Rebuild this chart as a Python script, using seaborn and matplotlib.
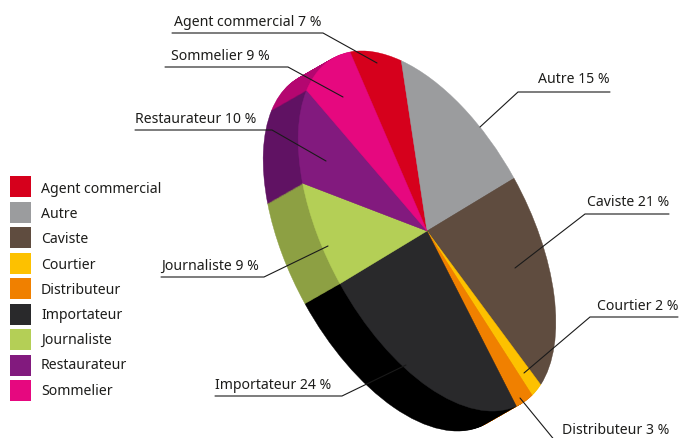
import matplotlib
matplotlib.use("Agg")
import matplotlib.pyplot as plt
from matplotlib.patches import Rectangle
from matplotlib.transforms import Affine2D
import numpy as np
import seaborn as sns

# values
categories = ["Agent commercial", "Autre", "Caviste", "Courtier", "Distributeur",
              "Importateur", "Journaliste", "Restaurateur", "Sommelier"]
values = [7, 15, 21, 2, 3, 24, 9, 10, 9]
top_colors = ["#d6001c", "#9b9c9e", "#5f4c3f", "#fdc100", "#f08000",
              "#29292b", "#b4cf56", "#821a7e", "#e6087f"]
side_colors = ["#a80016", "#7a7b7c", "#4a3b31", "#c79700", "#bd6400",
               "#000000", "#8da043", "#601263", "#b40670"]

sns.set_theme(style="white")
plt.rcParams["font.family"] = ["Noto Sans", "DejaVu Sans"]

fig = plt.figure(figsize=(6.81, 4.38), dpi=100)
ax = fig.add_axes([0, 0, 1, 1])

# the pie is tilted: unit circle -> ellipse in picture pixels
center = np.array([427.0, 231.0])
vec_a = np.array([-77.0, -179.0])
vec_b = np.array([103.3, -19.5])
tilt = np.array([[vec_a[0], -vec_b[0], center[0]],
                 [vec_a[1], -vec_b[1], center[1]],
                 [0, 0, 1]])
depth = np.array([-35.0, 20.0])


def draw_pie(colors, offset):
    wedges, _ = ax.pie(values, colors=colors, startangle=0, counterclock=False)
    tr = Affine2D(tilt).translate(offset[0], offset[1]) + ax.transData
    for w in wedges:
        w.set_transform(tr)
        w.set_edgecolor(w.get_facecolor())
        w.set_linewidth(0.3)
    return wedges


# extruded side, back to front
n_layers = 40
for i in range(n_layers, 0, -1):
    draw_pie(side_colors, depth * i / n_layers)
draw_pie(top_colors, (0, 0))

ax.set_aspect("auto")
ax.set_xlim(0, 681)
ax.set_ylim(438, 0)

# leader lines and label positions, in picture pixels
leaders = {
    "Agent commercial": ((174, 26), [(172, 33), (323, 33), (377, 63)]),
    "Autre": ((538, 83), [(610, 92), (518, 92), (480, 127)]),
    "Caviste": ((587, 206), [(669, 214), (585, 214), (515, 268)]),
    "Courtier": ((597, 310), [(678, 317), (590, 317), (524, 373)]),
    "Distributeur": ((562, 434), [(520, 398), (556, 442)]),
    "Importateur": ((215, 389), [(215, 396), (342, 396), (406, 365)]),
    "Journaliste": ((161, 270), [(161, 277), (264, 277), (328, 246)]),
    "Restaurateur": ((135, 123), [(135, 130), (272, 130), (326, 161)]),
    "Sommelier": ((171, 60), [(165, 67), (288, 67), (343, 97)]),
}
for cat, val in zip(categories, values):
    (tx, ty), path = leaders[cat]
    xs, ys = zip(*path)
    ax.plot(xs, ys, color="#1a1a1a", lw=0.8, solid_joinstyle="miter", zorder=5)
    ax.text(tx, ty, f"{cat} {val} %", fontsize=10.15, color="#1d1d1b",
            ha="left", va="baseline", zorder=6)

# legend column on the left
for i, (cat, col) in enumerate(zip(categories, top_colors)):
    ax.add_patch(Rectangle((10, 176 + 25.5 * i), 21, 21, facecolor=col, edgecolor="none"))
    ax.text(41, 193 + 25.2 * i, cat, fontsize=10.15, color="#1d1d1b",
            ha="left", va="baseline")

fig.savefig("out.png", dpi=100)
